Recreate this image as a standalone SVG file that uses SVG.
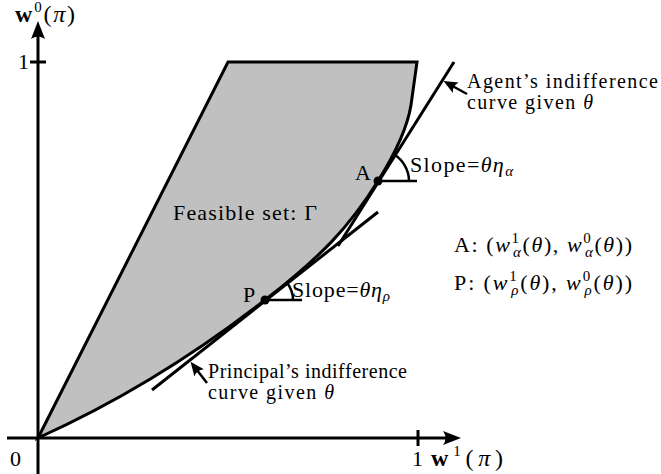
<svg xmlns="http://www.w3.org/2000/svg" width="661" height="474" viewBox="0 0 661 474">
<style>
text { font-family: "Liberation Serif", "Times New Roman", serif; font-size: 22px; fill: #000; }
.sm { font-size: 20px; }
.lg { font-size: 24px; }
.m { font-style: italic; }
.b { font-weight: bold; }
.s { font-size: 15px; }
.ax { stroke: #000; stroke-width: 3; fill: none; }
.bd { stroke: #000; stroke-width: 3; fill: #c0c0c0; stroke-linejoin: miter; }
.ln { stroke: #000; stroke-width: 3; fill: none; }
.th { stroke: #000; stroke-width: 2.5; fill: none; }
.hd { fill: #000; stroke: none; }
</style>
<defs>
<marker id="ar" markerUnits="userSpaceOnUse" markerWidth="20" markerHeight="20" viewBox="-12 -10 20 20" refX="0" refY="0" orient="auto">
<path d="M4,0 L-10,-6 Q-6,0 -10,6 Z" fill="#000"/>
</marker>
</defs>

<g id="axes">
<line class="ax" x1="38" y1="474" x2="38" y2="30"/>
<path class="hd" d="M38 21 L31 39 Q38 34 45 39 Z"/>
<line class="ax" x1="7" y1="438" x2="452" y2="438"/>
<path class="hd" d="M461 438 L443 431 Q448 438 443 445 Z"/>
<line class="ax" x1="30" y1="62" x2="46" y2="62"/>
<line class="ax" x1="418" y1="430" x2="418" y2="446"/>
<text x="18" y="69">1</text>
<text x="10" y="466">0</text>
<text x="412" y="466">1</text>
<text class="lg" x="15" y="22" textLength="60" lengthAdjust="spacing"><tspan class="b">w</tspan><tspan class="s" dy="-10">0</tspan><tspan dy="10">(</tspan><tspan class="m">π</tspan>)</text>
<text class="lg" x="431" y="466" textLength="72" lengthAdjust="spacing"><tspan class="b">w</tspan><tspan class="s" dy="-10">1</tspan><tspan dy="10">(</tspan><tspan class="m">π</tspan>)</text>
</g>

<g id="feasible-set">
<path class="bd" d="M38 438 L228 62 L417 62 L411 105 C407 130 393 157 378 181 C349.5 226.75 321.25 256.5 265 300 Q156 385 38 438 Z"/>
<text x="173" y="220" textLength="144" lengthAdjust="spacing">Feasible set: Γ</text>
</g>

<g id="connectors">
<line class="ln" x1="454" y1="62" x2="338" y2="246"/>
<line class="ln" x1="378" y1="212" x2="152" y2="390"/>
<line class="th" x1="467" y1="94" x2="447" y2="83" marker-end="url(#ar)"/>
<line class="th" x1="207" y1="383" x2="193" y2="365" marker-end="url(#ar)"/>
</g>

<g id="point-A">
<line class="th" x1="378" y1="181" x2="417" y2="181"/>
<path class="th" d="M409 181 A31 31 0 0 0 394.5 154.8"/>
<circle cx="378" cy="181" r="4.5" fill="#000"/>
<text x="355" y="180">A</text>
<text x="410" y="172" textLength="103" lengthAdjust="spacing">Slope=<tspan class="m">θη</tspan><tspan class="s m" dy="4">α</tspan></text>
</g>

<g id="point-P">
<line class="th" x1="265" y1="300" x2="302" y2="300"/>
<path class="th" d="M293 300 A28 28 0 0 0 287 282.7"/>
<circle cx="265" cy="300" r="4.5" fill="#000"/>
<text x="243" y="302">P</text>
<text x="292" y="297" textLength="98" lengthAdjust="spacing">Slope=<tspan class="m">θη</tspan><tspan class="s m" dy="4">ρ</tspan></text>
</g>

<g id="agent-label">
<text class="sm" x="467" y="88" textLength="191" lengthAdjust="spacing">Agent’s indifference</text>
<text class="sm" x="467" y="109" textLength="126" lengthAdjust="spacing">curve given <tspan class="m">θ</tspan></text>
</g>

<g id="principal-label">
<text class="sm" x="208" y="378" textLength="199" lengthAdjust="spacing">Principal’s indifference</text>
<text class="sm" x="208" y="399" textLength="126" lengthAdjust="spacing">curve given <tspan class="m">θ</tspan></text>
</g>

<g id="legend">
<text x="454" y="252" textLength="178" lengthAdjust="spacing">A: (<tspan class="m">w</tspan><tspan class="s" dy="-9">1</tspan><tspan class="s m" dx="-7.5" dy="14">α</tspan><tspan dy="-5">(</tspan><tspan class="m">θ</tspan>), <tspan class="m">w</tspan><tspan class="s" dy="-9">0</tspan><tspan class="s m" dx="-7.5" dy="14">α</tspan><tspan dy="-5">(</tspan><tspan class="m">θ</tspan>))</text>
<text x="454" y="290" textLength="178" lengthAdjust="spacing">P: (<tspan class="m">w</tspan><tspan class="s" dy="-9">1</tspan><tspan class="s m" dx="-7.5" dy="14">ρ</tspan><tspan dy="-5">(</tspan><tspan class="m">θ</tspan>), <tspan class="m">w</tspan><tspan class="s" dy="-9">0</tspan><tspan class="s m" dx="-7.5" dy="14">ρ</tspan><tspan dy="-5">(</tspan><tspan class="m">θ</tspan>))</text>
</g>
</svg>
